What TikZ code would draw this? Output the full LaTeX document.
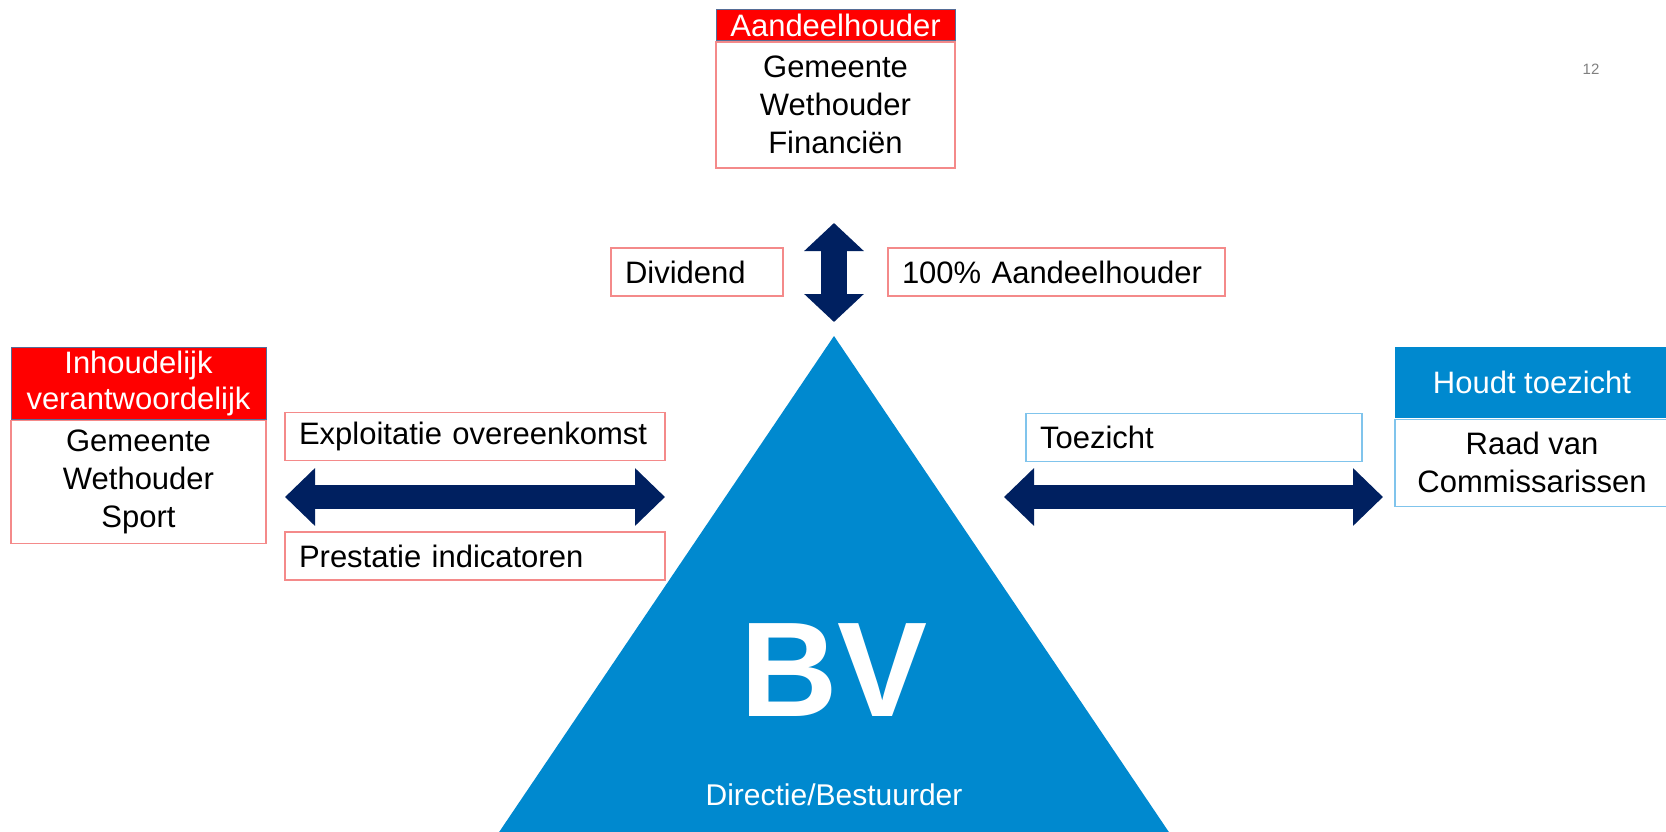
\documentclass[tikz,border=0pt]{standalone}
\usepackage{fontspec}
\setmainfont{Liberation Sans}
\usetikzlibrary{arrows.meta,positioning}

\begin{document}
\begin{tikzpicture}[x=1pt, y=-1pt]
			\definecolor{headerRed}{RGB}{255, 0, 0}
			\definecolor{borderRed}{RGB}{244, 138, 138}
			\definecolor{headerEdge}{RGB}{85, 108, 150}
			\definecolor{bvBlue}{RGB}{0, 137, 207}
			\definecolor{borderBlue}{RGB}{128, 196, 236}
			\definecolor{arrowNavy}{RGB}{0, 32, 96}
			\tikzstyle{header}=[rectangle, draw=headerEdge, line width=1pt, fill=headerRed, text=white, inner sep=0pt, align=center, font=\fontsize{31}{36}\selectfont]
			\tikzstyle{body}=[rectangle, draw=borderRed, line width=1.5pt, fill=white, inner sep=0pt, align=center, font=\fontsize{31}{38}\selectfont]
			\tikzstyle{tag}=[rectangle, draw=borderRed, line width=1.5pt, inner xsep=14pt, inner ysep=0pt, minimum height=48pt, align=left, font=\fontsize{31}{36}\selectfont]
			\tikzstyle{bigarrow}=[arrowNavy, line width=24pt, {Triangle[length=30pt, width=56pt]}-{Triangle[length=30pt, width=56pt]}]

			\useasboundingbox (0,0) rectangle (1666,832);
			\clip (0,0) rectangle (1666,832);

			% BV triangle
			\fill [bvBlue] (834,336) -- (487,850) -- (1181,850) -- cycle;
			\node [text=white, font=\fontsize{135}{135}\bfseries\selectfont, xshift=834pt, yshift=-670pt] (bv) {BV};
			\node [text=white, font=\fontsize{30}{30}\selectfont, xshift=834pt, yshift=-795pt] (board) {Directie/Bestuurder};

			% shareholder
			\node [header, minimum width=239pt, minimum height=31pt, xshift=835.5pt, yshift=-25.5pt] (topHead) {Aandeelhouder};
			\node [body, minimum width=239pt, minimum height=126pt, below=0pt of topHead] (topBody) {Gemeente\\Wethouder\\Financiën};
			\node [tag, text width=144pt, xshift=697pt, yshift=-272pt] (dividend) {Dividend};
			\node [tag, text width=309pt, xshift=1056.5pt, yshift=-272pt] (share) {100\% Aandeelhouder};

			% content responsibility
			\node [header, minimum width=255pt, minimum height=72pt, xshift=138.5pt, yshift=-383pt] (leftHead) {Inhoudelijk\\verantwoordelijk};
			\node [body, minimum width=255pt, minimum height=123pt, below=0pt of leftHead] (leftBody) {Gemeente\\Wethouder\\Sport};
			\node [tag, text width=352pt, xshift=475pt, yshift=-436.5pt] (contract) {Exploitatie overeenkomst};
			\node [tag, text width=352pt, xshift=475pt, yshift=-556pt] (kpi) {Prestatie indicatoren};

			% supervision
			\node [header, draw=none, fill=bvBlue, minimum width=274pt, minimum height=71pt, xshift=1532pt, yshift=-382.5pt] (rightHead) {Houdt toezicht};
			\node [body, draw=borderBlue, minimum width=274pt, minimum height=87pt, below=0pt of rightHead] (rightBody) {Raad van\\Commissarissen};
			\node [tag, draw=borderBlue, text width=308pt, xshift=1194pt, yshift=-437.5pt] (supervision) {Toezicht};

			\node [text=gray, font=\fontsize{15}{15}\selectfont, xshift=1591pt, yshift=-69pt] (pageNo) {12};

			\coordinate (vTop) at (834,223);
			\coordinate (vBot) at (834,322);
			\coordinate (lLeft) at (285,497);
			\coordinate (lRight) at (665,497);
			\coordinate (rLeft) at (1004,497);
			\coordinate (rRight) at (1383,497);

			\draw [bigarrow, line width=26pt, {Triangle[length=28pt, width=58pt]}-{Triangle[length=28pt, width=58pt]}] (vTop) -- (vBot);
			\draw [bigarrow] (lLeft) -- (lRight);
			\draw [bigarrow] (rLeft) -- (rRight);
		\end{tikzpicture}
\end{document}
